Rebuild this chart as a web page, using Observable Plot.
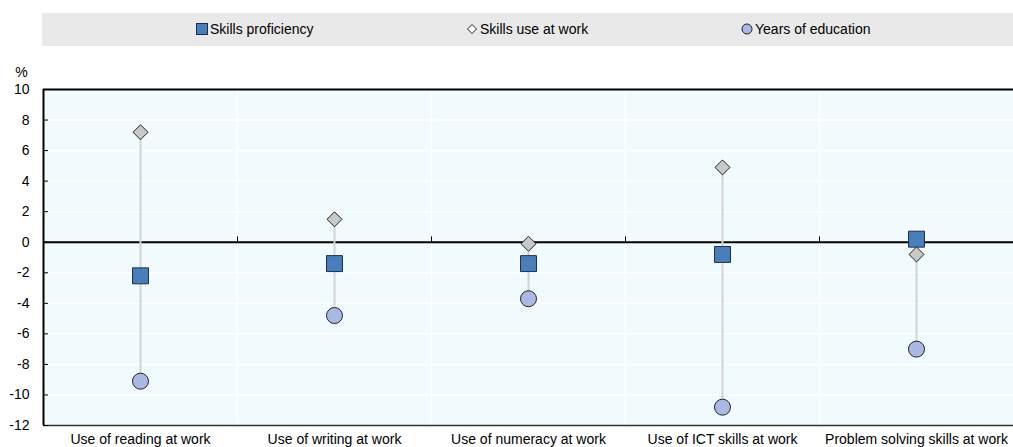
<!DOCTYPE html>
<html><head><meta charset="utf-8">
<script src="https://cdn.jsdelivr.net/npm/d3@7"></script>
<script src="https://cdn.jsdelivr.net/npm/@observablehq/plot@0.6"></script>
<style>
body{margin:0;background:#fff;font-family:"Liberation Sans",Arial,sans-serif;}
#legend{position:absolute;left:42px;top:13px;width:971px;height:33px;background:#e9e9e9;}
.item{position:absolute;top:0;height:33px;line-height:33px;font-size:14px;color:#000;white-space:nowrap}
.item svg{vertical-align:middle;margin-right:2px;position:relative;top:-1px}
#chart{position:absolute;left:0;top:46px}
</style></head><body>
<div id="legend"></div><div id="chart"></div>
<script>
const categories = ["Use of reading at work","Use of writing at work","Use of numeracy at work","Use of ICT skills at work","Problem solving skills at work"];
const proficiency = [-2.2, -1.4, -1.4, -0.8, 0.2];
const skillsUse = [7.2, 1.5, -0.1, 4.9, -0.8];
const education = [-9.1, -4.8, -3.7, -10.8, -7.0];
const yTicks = [-12, -10, -8, -6, -4, -2, 0, 2, 4, 6, 8, 10];
const seriesNames = ["Skills proficiency", "Skills use at work", "Years of education"];

const legendIcons = [
  '<svg width="12" height="12"><rect x="0.5" y="0.5" width="11" height="11" fill="#4a7ebb" stroke="#1c2e4a"/></svg>',
  '<svg width="12" height="12"><path d="M6,1.5L10.5,6L6,10.5L1.5,6Z" fill="#fff" stroke="#222"/></svg>',
  '<svg width="12" height="12"><circle cx="6" cy="6" r="5" fill="#a9b9e3" stroke="#222"/></svg>'
];
const legendLeft = [154, 424, 699];
const legend = document.getElementById("legend");
seriesNames.forEach((n, k) => {
  const d = document.createElement("div");
  d.className = "item";
  d.style.left = legendLeft[k] + "px";
  d.innerHTML = legendIcons[k] + n;
  legend.appendChild(d);
});

const rows = categories.map((c, i) => {
  const v = [proficiency[i], skillsUse[i], education[i]];
  return {i: i + 0.5, c, p: proficiency[i], u: skillsUse[i], e: education[i], lo: Math.min(...v), hi: Math.max(...v)};
});
const font = '"Liberation Sans",Arial,sans-serif';

const chart = Plot.plot({
  width: 1013, height: 401,
  marginLeft: 43, marginRight: 0, marginTop: 43, marginBottom: 22,
  x: {domain: [0, 5], axis: null},
  y: {domain: [-12, 10], axis: null},
  style: {fontFamily: font, background: "transparent", color: "#000"},
  marks: [
    Plot.frame({fill: "#f1fbfd", stroke: null}),
    Plot.gridY(yTicks, {stroke: "#fff", strokeOpacity: 1, strokeWidth: 1.5}),
    Plot.gridX([1, 2, 3, 4], {stroke: "#fff", strokeOpacity: 1, strokeWidth: 1.5}),
    Plot.ruleY([10], {stroke: "#000", strokeWidth: 2}),
    Plot.ruleY([-12], {stroke: "#333", strokeWidth: 1.5}),
    Plot.ruleY([0], {stroke: "#000", strokeWidth: 2}),
    Plot.ruleX([0], {stroke: "#000", strokeWidth: 2}),
    Plot.ruleX([1, 2, 3, 4], {y1: 0, y2: 0.35, stroke: "#000", strokeWidth: 1}),
    Plot.tickY(yTicks, {stroke: "#000", strokeWidth: 1, insetRight: 965}),
    Plot.axisY(yTicks, {tickSize: 0, tickPadding: 14, fontSize: 14, label: null, tickFormat: d => String(d)}),
    Plot.text(["%"], {frameAnchor: "top-left", dx: -22, dy: -17, fontSize: 14, textAnchor: "middle", lineAnchor: "middle"}),
    Plot.axisX(rows.map(d => d.i), {tickSize: 0, tickPadding: 9, fontSize: 14, label: null, tickFormat: d => categories[Math.floor(d)]}),
    Plot.ruleX(rows, {x: "i", y1: "lo", y2: "hi", stroke: "#d3d3d3", strokeWidth: 2}),
    Plot.dot(rows, {x: "i", y: "e", r: 8, fill: "#a9b9e3", stroke: "#222", strokeWidth: 1}),
    Plot.dot(rows, {x: "i", y: "p", symbol: "square", r: 9, fill: "#4a7ebb", stroke: "#1c2e4a", strokeWidth: 1}),
    Plot.dot(rows, {x: "i", y: "u", symbol: "diamond2", r: 6.75, fill: "#c8c8c8", stroke: "#222", strokeWidth: 1})
  ]
});
document.getElementById("chart").appendChild(chart);
</script>
</body></html>
